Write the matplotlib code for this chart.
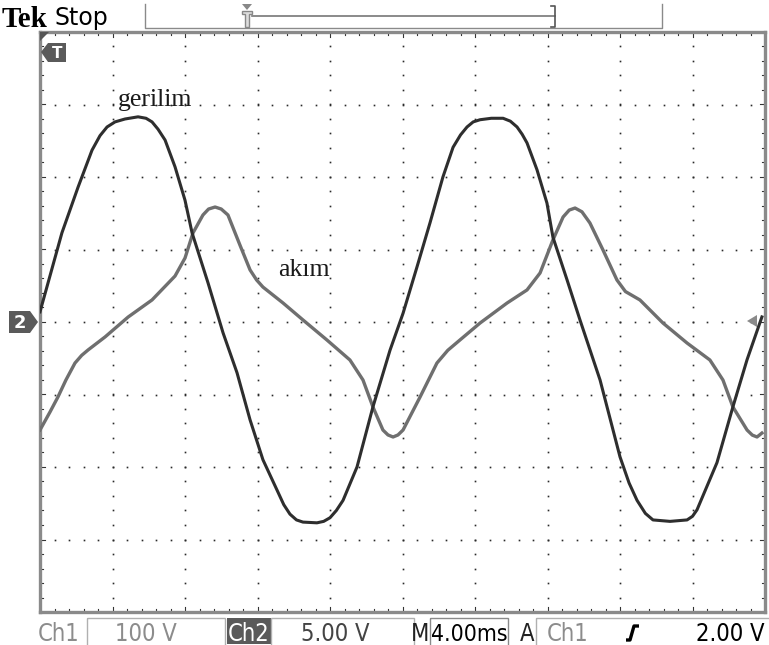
import matplotlib
matplotlib.use("Agg")
import matplotlib.pyplot as plt
from matplotlib.patches import Polygon, Rectangle
import numpy as np

# ---- scope settings ----
ch1_volts_per_div = 100.0   # Ch1 (gerilim)
ch2_volts_per_div = 5.0     # Ch2 (akım)
ms_per_div = 4.0
n_xdiv, n_ydiv = 10, 8

# ---- Ch1: gerilim trace (time in ms, volts) ----
v_time = [0.0, 1.21, 2.10, 2.87, 3.31, 3.70, 4.14, 4.69, 5.41, 5.85, 6.18, 6.51,
          6.90, 7.45, 8.00, 8.39, 9.27, 10.10, 10.87, 11.59, 12.30, 13.08, 13.45,
          13.79, 14.15, 14.51, 15.28, 15.65, 16.00, 16.35, 16.72, 17.49, 18.37,
          19.31, 20.03, 20.80, 21.52, 22.23, 22.79, 23.20, 23.56, 23.90, 24.28,
          24.90, 25.55, 25.95, 26.32, 26.60, 26.87, 27.42, 27.97, 28.30, 29.08,
          29.79, 30.90, 32.00, 32.50, 32.94, 33.40, 33.82, 34.76, 35.70, 36.00,
          36.25, 37.35, 38.23, 39.01, 39.83]
v_volts = [14, 123, 186, 237, 257, 269, 276, 280, 283, 281, 276, 266,
           251, 214, 168, 123, 54, -15, -70, -135, -190, -232, -252,
           -265, -273, -276, -277, -275, -270, -260, -246, -200, -117,
           -39, 12, 76, 137, 200, 241, 258, 269, 276, 279,
           281, 281, 277, 269, 259, 247, 210, 164, 117, 58,
           3, -80, -186, -222, -246, -264, -273, -275, -273, -268,
           -259, -194, -117, -52, 7]

# ---- Ch2: akım trace (time in ms, volts) ----
i_time = [0.0, 0.55, 0.99, 1.43, 1.93, 2.30, 2.65, 3.59, 4.86, 6.18, 7.45, 8.00, 8.44,
          8.99, 9.30, 9.66, 10.00, 10.37, 11.03, 11.59, 11.95, 12.30, 13.41, 14.51,
          15.83, 17.10, 17.82, 18.37, 18.92, 19.20, 19.48, 19.75, 20.03, 20.97,
          21.90, 22.50, 23.17, 24.28, 25.77, 26.87, 27.59, 28.30, 28.86, 29.20,
          29.52, 29.90, 30.34, 31.06, 31.83, 32.30, 33.10, 34.37, 35.70, 36.96,
          37.68, 38.23, 39.01, 39.30, 39.56, 39.83]
i_volts = [-7.45, -6.21, -5.17, -4.00, -2.83, -2.30, -1.93, -1.03, 0.34, 1.52, 3.17, 4.41, 6.14,
           7.38, 7.79, 7.93, 7.79, 7.38, 5.31, 3.59, 2.90, 2.41, 1.31, 0.14,
           -1.24, -2.62, -4.00, -5.86, -7.45, -7.79, -7.93, -7.79, -7.45, -5.17,
           -2.83, -1.95, -1.24, -0.07, 1.31, 2.21, 3.38, 5.66, 7.24, 7.72,
           7.86, 7.60, 6.83, 4.97, 2.90, 2.10, 1.52, -0.07, -1.45, -2.62,
           -4.00, -5.86, -7.45, -7.80, -7.93, -7.66]

# ---- status bar texts ----
tek_label, run_state = "Tek", "Stop"
ch1_name, ch1_scale = "Ch1", "100 V"
ch2_name, ch2_scale = "Ch2", "5.00 V"
time_label, time_scale = "M", "4.00ms"
trig_mode, trig_src, trig_level = "A", "Ch1", "2.00 V"
trace_names = ["gerilim", "akım"]

W, H = 769, 645
fig = plt.figure(figsize=(W / 100, H / 100), dpi=100)
fig.patch.set_facecolor("white")

SANS = dict(family="DejaVu Sans", fontstretch="condensed")

# graticule axes (pixel box 40..765 x 32..612)
gx0, gx1, gy0, gy1 = 40, 765, 32, 612
ax = fig.add_axes([gx0 / W, (H - gy1) / H, (gx1 - gx0) / W, (gy1 - gy0) / H])
ax.set_xlim(0, n_xdiv)
ax.set_ylim(-n_ydiv / 2, n_ydiv / 2)
ax.set_xticks([])
ax.set_yticks([])
for s in ax.spines.values():
    s.set_color("#8a8a8a")
    s.set_linewidth(2.4)

# dotted graticule
dot_kw = dict(ls="none", marker="s", ms=1.2, color="#2a2a2a", mew=0)
fine_y = np.arange(-n_ydiv / 2, n_ydiv / 2 + 1e-9, 0.2)
fine_x = np.arange(0, n_xdiv + 1e-9, 0.2)
for k in range(1, n_xdiv):
    ax.plot(np.full_like(fine_y, k), fine_y, **dot_kw)
for m in range(-n_ydiv // 2 + 1, n_ydiv // 2):
    ax.plot(fine_x, np.full_like(fine_x, m), **dot_kw)

# edge ticks along the frame
tick_len = 0.05
for x in fine_x:
    L = 0.09 if abs(x - round(x)) < 1e-6 else tick_len
    ax.plot([x, x], [4, 4 - L * 0.8], color="#333333", lw=0.8)
    ax.plot([x, x], [-4, -4 + L * 0.8], color="#333333", lw=0.8)
for y in fine_y:
    L = 0.09 if abs(y - round(y)) < 1e-6 else tick_len
    ax.plot([0, L * 0.8], [y, y], color="#333333", lw=0.8)
    ax.plot([10, 10 - L * 0.8], [y, y], color="#333333", lw=0.8)

# traces
vx = np.array(v_time) / ms_per_div
vy = np.array(v_volts) / ch1_volts_per_div
ix = np.array(i_time) / ms_per_div
iy = np.array(i_volts) / ch2_volts_per_div
ax.plot(ix, iy, color="#6f6f6f", lw=2.4, solid_joinstyle="round", zorder=5)
ax.plot(vx, vy, color="#2e2e2e", lw=2.2, solid_joinstyle="round", zorder=6)

# trace labels
ax.text((155 - gx0) / 72.5, (322 - 106) / 72.5, trace_names[0], family="Liberation Serif",
        fontsize=18.5, color="#1a1a1a", ha="center", va="baseline", zorder=7)
ax.text((304 - gx0) / 72.5, (322 - 276) / 72.5, trace_names[1], family="Liberation Serif",
        fontsize=18.5, color="#1a1a1a", ha="center", va="baseline", zorder=7)

# overlay in pixel coordinates for status bars and markers
ov = fig.add_axes([0, 0, 1, 1], facecolor="none")
ov.set_xlim(0, W)
ov.set_ylim(H, 0)
ov.axis("off")

# top status bar
ov.text(2, 27, tek_label, family="Liberation Serif", weight="bold", fontsize=21,
        color="black", ha="left", va="baseline")
ov.text(55, 25, run_state, family="DejaVu Sans", fontsize=17, color="black",
        ha="left", va="baseline")
ov.plot([145, 145, 662, 662], [4, 28, 28, 4], color="#8a8a8a", lw=1.0)
ov.plot([252, 555], [16, 16], color="#777777", lw=1.2)
ov.plot([551, 555, 555, 551], [6, 6, 27, 27], color="#555555", lw=1.2)
ov.add_patch(Polygon([[242, 4], [252, 4], [247, 10]], closed=True, fc="#888888", ec="none"))
ov.add_patch(Polygon([[242, 11], [252, 11], [252, 14], [249, 14], [249, 27], [245, 27],
                      [245, 14], [242, 14]], closed=True, fc="#dddddd", ec="#888888", lw=1))

# graticule corner + markers
ov.add_patch(Polygon([[40, 32], [49, 32], [40, 41]], closed=True, fc="#555555", ec="none"))
ov.add_patch(Polygon([[41, 52], [48, 43], [66, 43], [66, 62], [48, 62]], closed=True,
                     fc="#5a5a5a", ec="none"))
ov.text(57, 53, "T", family="DejaVu Sans", weight="bold", fontsize=11, color="white",
        ha="center", va="center")
ov.add_patch(Polygon([[9, 311], [30, 311], [38, 322], [30, 333], [9, 333]], closed=True,
                     fc="#5a5a5a", ec="none"))
ov.text(20, 323, "2", family="DejaVu Sans", weight="bold", fontsize=13, color="white",
        ha="center", va="center")
ov.add_patch(Polygon([[747, 321], [757, 315], [757, 327]], closed=True, fc="#8a8a8a", ec="none"))

# bottom status bar
by = 641
fs = 17
ov.text(38, by, ch1_name, fontsize=fs, color="#8c8c8c", ha="left", va="baseline", **SANS)
ov.add_patch(Rectangle((87, 618), 138, 30, fc="none", ec="#b0b0b0", lw=1))
ov.text(146, by, ch1_scale, fontsize=fs, color="#8c8c8c", ha="center", va="baseline", **SANS)
ov.add_patch(Rectangle((227, 618), 44, 26, fc="#5a5a5a", ec="none"))
ov.text(249, by, ch2_name, fontsize=fs, color="white", ha="center", va="baseline", **SANS)
ov.add_patch(Rectangle((271, 618), 143, 30, fc="none", ec="#b0b0b0", lw=1))
ov.text(335, by, ch2_scale, fontsize=fs, color="#444444", ha="center", va="baseline", **SANS)
ov.text(429, by, time_label, fontsize=fs, color="#222222", ha="right", va="baseline", **SANS)
ov.add_patch(Rectangle((430, 618), 78, 30, fc="none", ec="#8a8a8a", lw=1))
ov.text(469, by, time_scale, fontsize=16.5, color="black", ha="center", va="baseline", **SANS)
ov.text(520, by, trig_mode, fontsize=fs, color="#222222", ha="left", va="baseline", **SANS)
ov.add_patch(Rectangle((536, 618), 240, 30, fc="none", ec="#b0b0b0", lw=1))
ov.text(547, by, trig_src, fontsize=fs, color="#8c8c8c", ha="left", va="baseline", **SANS)
ov.plot([626, 630, 634, 639], [640, 640, 626, 626], color="black", lw=2.4,
        solid_capstyle="butt")
ov.text(765, by, trig_level, fontsize=fs, color="black", ha="right", va="baseline", **SANS)

fig.savefig("out.png", dpi=100, facecolor="white")
